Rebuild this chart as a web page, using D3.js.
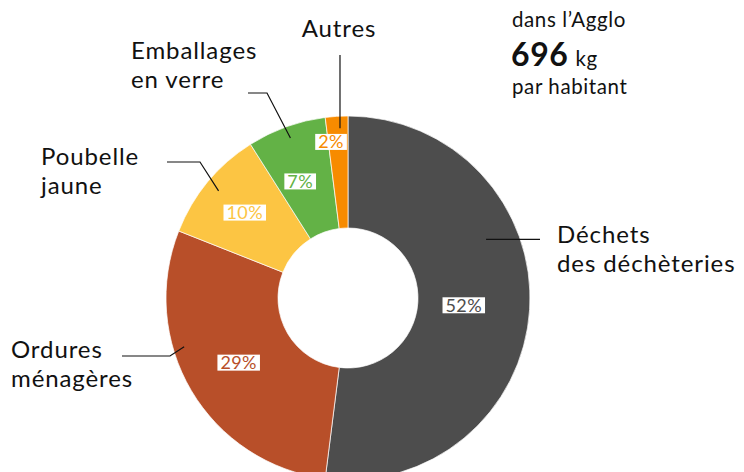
<!DOCTYPE html>
<html>
<head>
<meta charset="utf-8">
<script src="https://cdn.jsdelivr.net/npm/d3@7"></script>
<style>
  body { margin: 0; background: #fff; }
  svg { display: block; }
</style>
</head>
<body>
<svg id="chart" width="744" height="472"></svg>
<script>
// data
const categories = ["Déchets des déchèteries", "Ordures ménagères", "Poubelle jaune", "Emballages en verre", "Autres"];
const labelLines = [["Déchets", "des déchèteries"], ["Ordures", "ménagères"], ["Poubelle", "jaune"], ["Emballages", "en verre"], ["Autres"]];
const shares = [52, 29, 10, 7, 2];
const colors = ["#4d4d4d", "#b84f29", "#fcc543", "#63b246", "#f78b00"];
const totalKg = 696;

const width = 744, height = 472;
const cx = 348, cy = 298;
const rOuter = 182, rInner = 70;
const font = "Lato, sans-serif";

const svg = d3.select("#chart");
const g = svg.append("g").attr("transform", `translate(${cx},${cy})`);

const pie = d3.pie().sort(null).value(d => d);
const arcs = pie(shares);
const arc = d3.arc().innerRadius(rInner).outerRadius(rOuter);

g.selectAll("path.slice")
  .data(arcs)
  .join("path")
  .attr("class", "slice")
  .attr("d", arc)
  .attr("fill", (d, i) => colors[i])
  .attr("stroke", "#fff")
  .attr("stroke-width", 0.7);

// polar helper (angle clockwise from top)
const polar = (r, a) => [r * Math.sin(a), -r * Math.cos(a)];
const mid = d => (d.startAngle + d.endAngle) / 2;
const deg = Math.PI / 180;

// percent labels: radius where each sits inside its slice
const pctRadius = [116, 127, 134, 126, 157];
const pctShift = [0, 0, 0, -2.5 * deg, -2.6 * deg];

arcs.forEach((d, i) => {
  const [x, y] = polar(pctRadius[i], mid(d) + pctShift[i]);
  const lg = g.append("g").attr("transform", `translate(${x},${y})`);
  const rect = lg.append("rect").attr("fill", "#fff");
  const t = lg.append("text")
    .attr("text-anchor", "middle")
    .attr("y", 6.5)
    .attr("font-family", font)
    .attr("font-size", 18)
    .attr("letter-spacing", 0.4)
    .attr("fill", colors[i])
    .text(shares[i] + "%");
  const w = t.node().getComputedTextLength();
  rect.attr("x", -w / 2 - 3).attr("width", w + 6).attr("y", -8).attr("height", 16);
});

// leader lines and category labels (in svg coordinates)
const leaders = [
  { r: 150, a: 67 * deg, path: p => [p, [540 - cx, p[1]]], tx: 557, ty: 243, anchor: "start" },
  { r: 171, a: 253.4 * deg, path: p => [p, [170 - cx, 356 - cy], [122 - cx, 356 - cy]], tx: 11, ty: 358, anchor: "start" },
  { r: 168, a: null, path: p => [p, [200 - cx, 162 - cy], [167 - cx, 162 - cy]], tx: 41, ty: 165, anchor: "start" },
  { r: 170, a: null, path: p => [p, [267 - cx, 93 - cy], [248 - cx, 93 - cy]], tx: 131, ty: 59, anchor: "start" },
  { r: 170, a: 357.3 * deg, path: p => [p, [p[0], 55 - cy]], tx: 339, ty: 37, anchor: "middle" }
];

arcs.forEach((d, i) => {
  const L = leaders[i];
  const p = polar(L.r, L.a == null ? mid(d) : L.a);
  g.append("path")
    .attr("d", d3.line()(L.path(p)))
    .attr("fill", "none")
    .attr("stroke", "#111")
    .attr("stroke-width", 1.2);

  const t = svg.append("text")
    .attr("font-family", font)
    .attr("font-size", 24)
    .attr("letter-spacing", 0.9)
    .attr("fill", "#111")
    .attr("text-anchor", L.anchor);
  labelLines[i].forEach((s, k) => {
    t.append("tspan").attr("x", L.tx).attr("y", L.ty + k * 29).text(s);
  });
});

// total per inhabitant
const info = svg.append("g").attr("font-family", font).attr("fill", "#111").attr("letter-spacing", 0.6);
info.append("text").attr("x", 512).attr("y", 27).attr("font-size", 20.5).text("dans l’Agglo");
const big = info.append("text").attr("x", 511).attr("y", 66);
big.append("tspan").attr("font-size", 32).attr("font-weight", 700).text(totalKg);
big.append("tspan").attr("font-size", 20.5).attr("dx", 7).text("kg");
info.append("text").attr("x", 512).attr("y", 94).attr("font-size", 20.5).text("par habitant");
</script>
</body>
</html>
